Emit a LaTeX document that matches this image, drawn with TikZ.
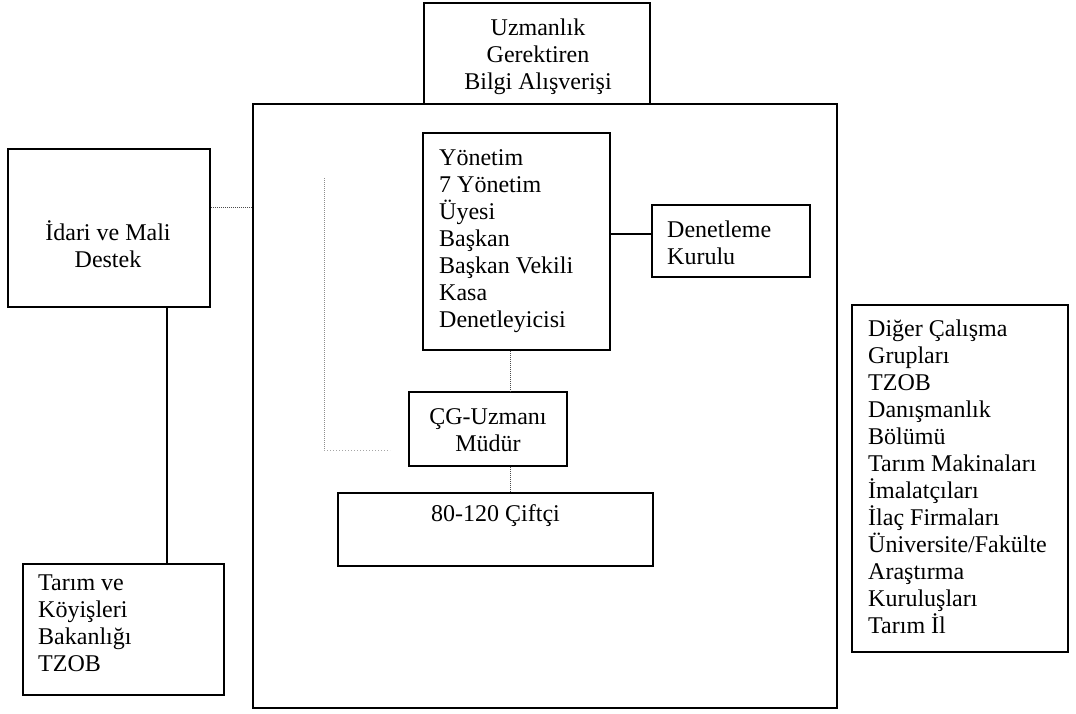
\documentclass[tikz,border=0pt]{standalone}
\usepackage{fontspec}
\setmainfont{Liberation Serif}
\begin{document}
\begin{tikzpicture}[x=1pt,y=-1pt,
  box/.style={draw=black,line width=1.6pt,rectangle,inner sep=0pt},
  txt/.style={inner sep=0pt,font=\fontsize{24}{27}\selectfont},
  solidlink/.style={draw=black,line width=1.5pt},
  dotlink/.style={draw=black!70,line width=0.7pt,dash pattern=on 1pt off 1pt},
  faintlink/.style={draw=black!35,line width=0.6pt,dash pattern=on 1pt off 2pt}]
\useasboundingbox (0,0) rectangle (1076,713);
% outer frame
\node[box,minimum width=584pt,minimum height=604pt] (big) at (545,406) {};
% boxes
\node[box,minimum width=226pt,minimum height=101pt] (top) at (537,53.5) {};
\node[box,minimum width=202pt,minimum height=158pt] (idari) at (109,228) {};
\node[box,minimum width=201pt,minimum height=131pt] (tarim) at (123.5,629.5) {};
\node[box,minimum width=187pt,minimum height=217pt] (yon) at (516.5,241.5) {};
\node[box,minimum width=158pt,minimum height=72pt] (den) at (731,241) {};
\node[box,minimum width=158pt,minimum height=74pt] (cg) at (488,429) {};
\node[box,minimum width=315pt,minimum height=73pt] (cif) at (495.5,529.5) {};
\node[box,minimum width=216pt,minimum height=347pt] (diger) at (960,478.5) {};
% texts
\node[txt,align=center] (ttop) at (538,57) {Uzmanlık\\Gerektiren\\Bilgi Alışverişi};
\node[txt,align=center] (tidari) at (108,244) {İdari ve Mali\\Destek};
\node[txt,align=left,anchor=west] (ttarim) at (38,623) {Tarım ve\\Köyişleri\\Bakanlığı\\TZOB};
\node[txt,align=left,anchor=west] (tyon) at (439,241) {Yönetim\\7 Yönetim\\Üyesi\\Başkan\\Başkan Vekili\\Kasa\\Denetleyicisi};
\node[txt,align=left,anchor=west] (tden) at (667,243) {Denetleme\\Kurulu};
\node[txt,align=center] (tcg) at (488,430) {ÇG-Uzmanı\\Müdür};
\node[txt] (tcif) at (495.5,516) {80-120 Çiftçi};
\node[txt,align=left,anchor=west] (tdiger) at (868,477) {Diğer Çalışma\\Grupları\\TZOB\\Danışmanlık\\Bölümü\\Tarım Makinaları\\İmalatçıları\\İlaç Firmaları\\Üniversite/Fakülte\\Araştırma\\Kuruluşları\\Tarım İl};
% connectors
\draw[dotlink] ([yshift=21pt]idari.east) -- ([yshift=21pt]idari.east -| big.west);
\draw[solidlink] ([xshift=58pt]idari.south) -- ([xshift=58pt]idari.south |- tarim.north);
\draw[solidlink] ([yshift=7.5pt]yon.east) -- ([yshift=7.5pt]yon.east -| den.west);
\draw[dotlink] ([xshift=-6.5pt]yon.south) -- ([xshift=22pt]cg.north);
\draw[dotlink] ([xshift=22pt]cg.south) -- ([xshift=14.5pt]cif.north);
% dotted bracket at left inside the frame
\coordinate (bt) at (324,178);
\coordinate (bb) at (324,450);
\coordinate (be) at (390,450);
\draw[dotlink,draw=black!45] (bt) -- (bb);
\draw[faintlink] (bb) -- (be);
\end{tikzpicture}
\end{document}
